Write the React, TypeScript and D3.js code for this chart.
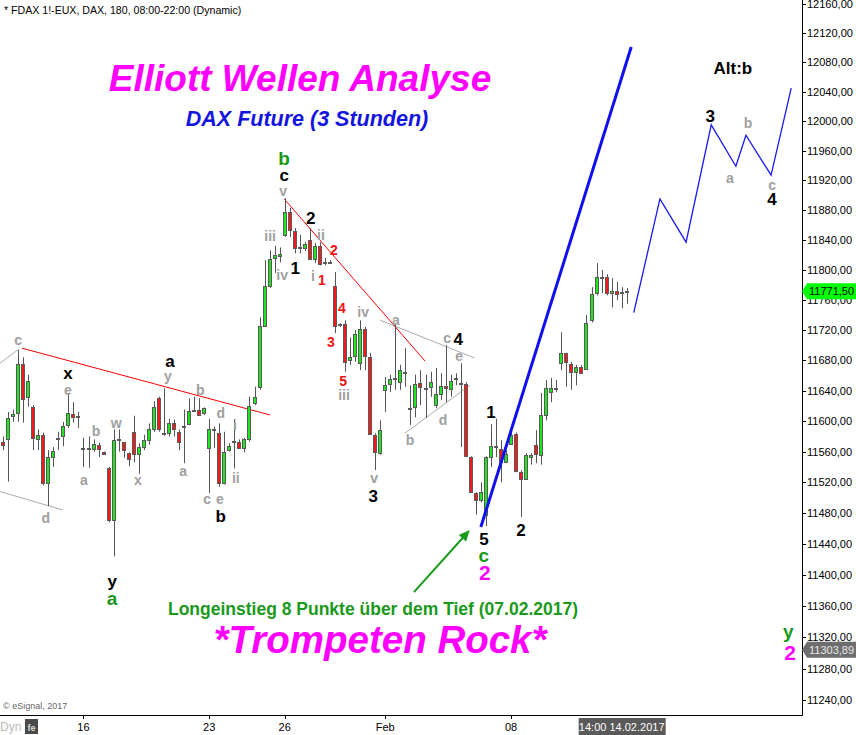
import React from "react";
import * as d3 from "d3";

// ---- price data (3h bars, FDAX) ----
const opens = [11572,11577,11607,11610,11675,11632,11619,11576,11582,11519,11553,11576,11580,11595,11609,11605,11565,11564,11564,11569,11559,11539,11471,11575,11572,11558,11586,11557,11566,11575,11589,11630,11583,11584,11598,11586,11593,11596,11613,11615,11610,11565,11588,11585,11519,11562,11573,11573,11565,11577,11624,11645,11725,11778,11816,11819,11847,11877,11852,11829,11829,11840,11814,11832,11809,11810,11778,11727,11728,11680,11686,11676,11721,11684,11582,11558,11641,11649,11655,11651,11663,11616,11618,11650,11643,11645,11621,11636,11646,11642,11656,11649,11649,11553,11506,11497,11478,11553,11567,11564,11547,11570,11583,11533,11524,11553,11569,11556,11608,11638,11643,11676,11690,11675,11665,11671,11668,11733,11769,11790,11790,11769,11772,11769,11770];
const highs = [11580,11612,11615,11694,11684,11661,11621,11589,11585,11562,11566,11586,11599,11637,11625,11612,11578,11580,11576,11572,11560,11540,11589,11589,11572,11559,11607,11571,11582,11597,11626,11632,11643,11603,11602,11589,11615,11630,11632,11630,11618,11603,11593,11597,11586,11571,11602,11576,11578,11632,11645,11737,11813,11826,11832,11830,11896,11883,11856,11847,11837,11856,11836,11837,11816,11813,11797,11729,11733,11710,11720,11733,11724,11690,11584,11601,11658,11661,11729,11674,11696,11647,11661,11667,11661,11665,11670,11663,11700,11661,11663,11676,11651,11554,11507,11520,11554,11596,11603,11575,11562,11590,11585,11536,11558,11558,11588,11637,11654,11657,11654,11717,11690,11678,11674,11674,11740,11777,11809,11800,11794,11789,11784,11777,11776];
const lows = [11562,11521,11599,11599,11598,11619,11562,11562,11516,11489,11540,11562,11567,11591,11598,11591,11540,11539,11560,11553,11556,11468,11424,11560,11552,11541,11546,11531,11562,11569,11586,11586,11581,11580,11580,11562,11545,11595,11612,11607,11608,11506,11565,11514,11517,11560,11538,11564,11559,11573,11621,11641,11724,11776,11796,11810,11844,11844,11822,11822,11825,11813,11809,11806,11806,11808,11716,11724,11665,11674,11678,11667,11667,11582,11536,11556,11612,11638,11641,11641,11645,11595,11605,11621,11604,11632,11617,11628,11625,11632,11647,11566,11553,11507,11478,11494,11463,11540,11553,11520,11545,11569,11533,11475,11523,11543,11545,11543,11601,11625,11638,11667,11645,11641,11647,11662,11667,11730,11766,11769,11766,11750,11760,11749,11755];
const closes = [11569,11604,11609,11675,11629,11653,11578,11582,11519,11553,11561,11578,11594,11611,11606,11607,11564,11565,11570,11563,11557,11471,11575,11576,11562,11550,11557,11566,11575,11589,11619,11589,11584,11598,11589,11573,11594,11613,11614,11608,11617,11589,11589,11519,11559,11568,11574,11565,11577,11620,11632,11725,11778,11814,11820,11821,11877,11853,11829,11830,11835,11814,11832,11808,11810,11811,11725,11728,11678,11684,11715,11721,11686,11583,11560,11588,11647,11655,11656,11667,11664,11617,11649,11645,11644,11651,11636,11646,11643,11653,11657,11650,11554,11507,11497,11507,11553,11567,11566,11547,11557,11582,11535,11524,11556,11556,11557,11608,11643,11643,11644,11690,11678,11665,11671,11663,11729,11768,11790,11791,11769,11772,11768,11770,11771.5];

const priceTicks = d3.range(11240, 12161, 40);
const dateTickIdx = [16, 41, 56, 76, 101];
const dateTickText = ["16", "23", "26", "Feb", "08"];
const lastPrice = 11771.5;
const markerPrice = 11303.89;
const cursorIdx = 123;
const cursorText = "14:00 14.02.2017";

// ---- drawn lines (bar index, price) ----
const redLineA = [[3.78, 11696], [53.1, 11608]];
const redLineB = [[55.9, 11895], [83.9, 11679]];
const grayLineA = [[-0.6, 11676], [3.0, 11694]];
const grayLineB = [[-0.6, 11508], [11.9, 11484]];
const grayLineC = [[75.0, 11733], [93.8, 11683]];
const grayLineD = [[79.9, 11584], [92.8, 11647]];
const blueTrend = [[95.0, 11462], [124.9, 12101]];
const projIdx = [125.4, 130.6, 135.8, 140.8, 145.7, 147.7, 152.7, 156.7];
const projPrice = [11743, 11895, 11837, 11995, 11939, 11981, 11927, 12045];
const arrowPts = [[81.7, 11378], [92.8, 11458]];

// ---- wave labels: [text, bar index, price] ----
const blackLabels = [["x",12.9,11662],["a",33.2,11678],["b",43.3,11476],["c",55.9,11927],["2",61.2,11869],["1",58.1,11802],["3",73.6,11502],["4",90.5,11707],["1",97.0,11611],["2",103,11458],["5",95.6,11446],["3",140.6,12007],["4",152.9,11894],["y",21.7,11392]];
const greenLabels = [["b",55.9,11950],["c",95.6,11425],["a",21.7,11370],["y",156.1,11327]];
const magentaLabels = [["2",95.8,11403],["2",156.5,11300]];
const grayLabels = [["c",3.0,11707],["e",12.9,11641],["d",8.5,11474],["a",16.1,11523],["b",18.5,11587],["w",22.5,11598],["x",26.8,11523],["y",32.8,11659],["a",35.8,11535],["b",39.2,11641],["d",43.3,11611],["c",40.6,11498],["e",43.1,11498],["i",46.1,11595],["ii",46.3,11526],["iii",53.1,11845],["iv",55.5,11793],["v",55.7,11906],["ii",63.2,11847],["i",61.6,11792],["iv",71.6,11744],["iii",67.8,11634],["v",73.8,11526],["a",78.1,11733],["c",88.3,11710],["e",90.7,11686],["b",80.9,11575],["d",87.5,11601],["a",144.5,11923],["b",148.1,11997],["c",152.9,11914]];
const redLabels = [["2",65.8,11826],["1",63.4,11786],["4",67.4,11749],["3",65.2,11704],["5",67.6,11653]];
const altLabel = ["Alt:b", 145.1, 12072];

const FONT = "Arial, 'Liberation Sans', sans-serif";

export default function App() {
  const W = 856, H = 735;
  const plotR = 802, plotB = 715;
  const x = d3.scaleLinear().domain([0, 124]).range([3, 3 + 124 * 5.03]);
  const y = d3.scaleLog().domain([11240, 12160]).range([700, 4]);
  const line = d3.line<number[]>().x(d => x(d[0])).y(d => y(d[1]));
  const proj = projIdx.map((v, i) => [v, projPrice[i]]);

  const labelEls = (arr: any[], color: string, size: number, key: string) =>
    arr.map((l, i) => (
      <text key={key + i} x={x(l[1])} y={y(l[2])} fill={color} fontSize={size} fontWeight="bold"
        textAnchor="middle" dominantBaseline="central" fontFamily={FONT}>{l[0]}</text>
    ));

  const yl = y(lastPrice);
  const ym = y(markerPrice);
  const cx = x(cursorIdx);
  const a0 = arrowPts[0], a1 = arrowPts[1];
  const ax0 = x(a0[0]), ay0 = y(a0[1]), ax1 = x(a1[0]), ay1 = y(a1[1]);
  const ang = Math.atan2(ay1 - ay0, ax1 - ax0);
  const ah = 11, aw = 5;
  const head = [
    [ax1, ay1],
    [ax1 - ah * Math.cos(ang) + aw * Math.sin(ang), ay1 - ah * Math.sin(ang) - aw * Math.cos(ang)],
    [ax1 - ah * Math.cos(ang) - aw * Math.sin(ang), ay1 - ah * Math.sin(ang) + aw * Math.cos(ang)],
  ];

  return (
    <div style={{ position: "absolute", left: 0, top: 0 }}>
      <svg width={W} height={H} style={{ display: "block", background: "#fff" }}>
        <defs>
          <clipPath id="plot"><rect x={0} y={0} width={plotR} height={plotB} /></clipPath>
        </defs>
        <rect x={0} y={0} width={W} height={H} fill="#fff" />
        <text x={4} y={14} fontSize={10.6} fontFamily={FONT} fill="#000">* FDAX 1!-EUX, DAX, 180, 08:00-22:00 (Dynamic)</text>

        <g clipPath="url(#plot)">
          {/* trend lines */}
          <path d={line(grayLineA as any) || ""} stroke="#aaa" strokeWidth={1} fill="none" />
          <path d={line(grayLineB as any) || ""} stroke="#aaa" strokeWidth={1} fill="none" />
          <path d={line(grayLineC as any) || ""} stroke="#aaa" strokeWidth={1} fill="none" />
          <path d={line(grayLineD as any) || ""} stroke="#aaa" strokeWidth={1} fill="none" />
          <path d={line(redLineA as any) || ""} stroke="#f00" strokeWidth={1} fill="none" />
          <path d={line(redLineB as any) || ""} stroke="#f00" strokeWidth={1} fill="none" />

          {/* candles */}
          {opens.map((o, i) => {
            const c = closes[i];
            const xc = Math.round(x(i));
            const up = c >= o;
            const top = Math.round(y(Math.max(o, c))) + 0.5;
            const bot = Math.round(y(Math.min(o, c))) + 0.5;
            return (
              <g key={i}>
                <line x1={xc + 0.5} x2={xc + 0.5} y1={y(highs[i])} y2={y(lows[i])} stroke="#555" strokeWidth={1} />
                <rect x={xc - 1.5} y={top} width={3} height={Math.max(1, bot - top)}
                  fill={up ? "#1ee61e" : "#f41a1a"} stroke="#5a5a5a" strokeWidth={1} />
              </g>
            );
          })}

          <path d={line(blueTrend as any) || ""} stroke="#1010ee" strokeWidth={3} fill="none" />
          <path d={line(proj as any) || ""} stroke="#1a1aee" strokeWidth={1.3} fill="none" />

          {/* arrow */}
          <line x1={ax0} y1={ay0} x2={ax1 - 6 * Math.cos(ang)} y2={ay1 - 6 * Math.sin(ang)} stroke="#1a9a1a" strokeWidth={2} />
          <polygon points={head.map(p => p.join(",")).join(" ")} fill="#1a9a1a" />
        </g>

        {/* wave labels */}
        {labelEls(grayLabels, "#a0a0a0", 14, "g")}
        {labelEls(redLabels, "#f01010", 14, "r")}
        {labelEls(blackLabels, "#000", 17, "k")}
        {labelEls(greenLabels, "#17981a", 19, "gr")}
        {labelEls(magentaLabels, "#ff00ff", 21, "m")}
        <text x={x(altLabel[1] as number)} y={y(altLabel[2] as number)} fontSize={17} fontWeight="bold" fill="#000"
          textAnchor="middle" dominantBaseline="central" fontFamily={FONT}>{altLabel[0]}</text>

        {/* titles */}
        <text x={300} y={91} fontSize={37} fontWeight="bold" fontStyle="italic" fill="#ff00ff" textAnchor="middle" fontFamily={FONT}>Elliott Wellen Analyse</text>
        <text x={307} y={126} fontSize={21.5} fontWeight="bold" fontStyle="italic" fill="#1414e0" textAnchor="middle" fontFamily={FONT}>DAX Future (3 Stunden)</text>
        <text x={373} y={615} fontSize={17.5} fontWeight="bold" fill="#1a9a1a" textAnchor="middle" fontFamily={FONT}>Longeinstieg 8 Punkte über dem Tief (07.02.2017)</text>
        <text x={380} y={653} fontSize={38.5} fontWeight="bold" fontStyle="italic" fill="#ff00ff" textAnchor="middle" fontFamily={FONT}>*Trompeten Rock*</text>
        <text x={3} y={709} fontSize={9} fill="#666" fontFamily={FONT}>© eSignal, 2017</text>

        {/* axes */}
        <line x1={plotR + 0.5} x2={plotR + 0.5} y1={0} y2={plotB + 0.5} stroke="#000" />
        <line x1={0} x2={plotR + 0.5} y1={plotB + 0.5} y2={plotB + 0.5} stroke="#000" />
        {priceTicks.map(v => (
          <g key={v}>
            <line x1={plotR} x2={plotR + 4} y1={Math.round(y(v)) + 0.5} y2={Math.round(y(v)) + 0.5} stroke="#000" />
            <text x={plotR + 5} y={y(v)} fontSize={11} fontFamily={FONT} fill="#000" dominantBaseline="central">
              {v.toFixed(2).replace(".", ",")}
            </text>
          </g>
        ))}
        {dateTickIdx.map((d, i) => (
          <g key={d}>
            <line x1={Math.round(x(d)) + 0.5} x2={Math.round(x(d)) + 0.5} y1={plotB} y2={plotB + 4} stroke="#000" />
            <text x={x(d)} y={731} fontSize={11} fontFamily={FONT} fill="#000" textAnchor="middle">{dateTickText[i]}</text>
          </g>
        ))}

        {/* last price tag */}
        <polygon points={`${plotR},${yl} ${plotR + 5},${yl - 8} ${W},${yl - 8} ${W},${yl + 8} ${plotR + 5},${yl + 8}`} fill="#00ff00" />
        <text x={plotR + 7} y={yl} fontSize={11} fontFamily={FONT} fill="#000" dominantBaseline="central">
          {lastPrice.toFixed(2).replace(".", ",")}
        </text>
        <polygon points={`${plotR},${ym} ${plotR + 5},${ym - 8} ${W},${ym - 8} ${W},${ym + 8} ${plotR + 5},${ym + 8}`} fill="#6e6e6e" />
        <text x={plotR + 7} y={ym} fontSize={11} fontFamily={FONT} fill="#e8e8e8" dominantBaseline="central">
          {markerPrice.toFixed(2).replace(".", ",")}
        </text>

        {/* cursor date tag */}
        <rect x={cx - 43} y={718} width={87} height={17} fill="#5a5a5a" />
        <text x={cx} y={731} fontSize={11} fontFamily={FONT} fill="#fff" textAnchor="middle">{cursorText}</text>

        {/* Dyn + icon */}
        <text x={0} y={731} fontSize={12} fontFamily={FONT} fill="#bbb">Dyn</text>
        <rect x={25} y={719} width={13} height={15} fill="#4a4a4a" />
        <text x={31.5} y={731} fontSize={9} fontWeight="bold" fontFamily={FONT} fill="#ddd" textAnchor="middle">fe</text>
      </svg>
    </div>
  );
}
